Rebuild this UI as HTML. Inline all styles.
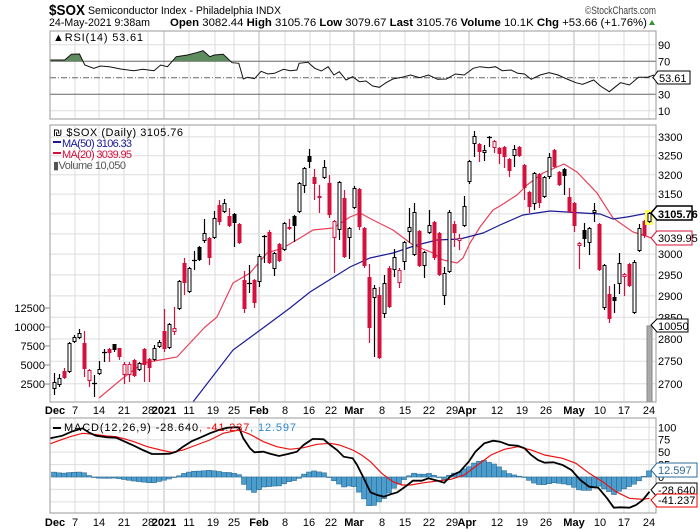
<!DOCTYPE html>
<html><head><meta charset="utf-8"><style>
html,body{margin:0;padding:0;background:#fff;}
svg{display:block;font-family:"Liberation Sans",sans-serif;}
</style></head><body>
<svg id="c" width="700" height="530" viewBox="0 0 700 530" xmlns="http://www.w3.org/2000/svg">
<rect width="700" height="530" fill="#fff"/>
<text x="49" y="15" font-size="15" font-weight="bold" textLength="36" lengthAdjust="spacingAndGlyphs">$SOX</text>
<text x="88" y="14" font-size="11" textLength="193" lengthAdjust="spacingAndGlyphs">Semiconductor Index - Philadelphia INDX</text>
<text x="585" y="14" font-size="11" fill="#444" textLength="71" lengthAdjust="spacingAndGlyphs">©StockCharts.com</text>
<text x="49" y="26" font-size="11" textLength="101" lengthAdjust="spacingAndGlyphs">24-May-2021 9:38am</text>
<text x="170" y="26" font-size="11" textLength="477" lengthAdjust="spacingAndGlyphs"><tspan font-weight="bold">Open</tspan> 3082.44 <tspan font-weight="bold">High</tspan> 3105.76 <tspan font-weight="bold">Low</tspan> 3079.67 <tspan font-weight="bold">Last</tspan> 3105.76 <tspan font-weight="bold">Volume</tspan> 10.1K <tspan font-weight="bold">Chg</tspan> +53.66 (+1.76%)</text>
<polygon points="649,25 655,25 652,20" fill="#2a9a2a"/>
<g id="g"></g>
</svg>
<script>
const NS="http://www.w3.org/2000/svg";const G=document.getElementById('g');
function el(t,a,txt){const e=document.createElementNS(NS,t);for(const k in a)e.setAttribute(k,a[k]);if(txt!==undefined)e.textContent=txt;G.appendChild(e);return e;}
const L=50,R=656;
const vmonth=[164,259,354,469,574];
const vweek=[75,99,124,148,189,215,234,285,310,330,380,405,429,455,499,524,549,599,624,649];
function vgrid(t,b){vweek.forEach(x=>el('line',{x1:x,x2:x,y1:t,y2:b,stroke:'#ddd'}));vmonth.forEach(x=>el('line',{x1:x,x2:x,y1:t,y2:b,stroke:'#bbb'}));}
// ---------- RSI ----------
const rT=31,rB=119;const ry=v=>119-v*0.825;
vgrid(rT,rB);
[90,10].forEach(v=>el('line',{x1:L,x2:R,y1:ry(v),y2:ry(v),stroke:'#ddd'}));
[70,30].forEach(v=>el('line',{x1:L,x2:R,y1:ry(v),y2:ry(v),stroke:'#666'}));
el('line',{x1:L,x2:R,y1:ry(50),y2:ry(50),stroke:'#666','stroke-dasharray':'6,2,1,2'});
const rsiD=[[113,180],[145,180],[160,163],[178,162],[190,195],[210,205],[225,198],[245,200],[270,207],[300,212],[320,208],[345,212],[360,195],[375,200],[395,170],[420,165],[440,158],[455,152],[470,170],[480,165],[500,163],[520,188],[535,190],[545,237],[555,232],[570,236],[585,214],[600,222],[615,220],[635,208],[650,212],[665,210],[670,190],[690,187],[705,205],[720,213],[735,200],[748,225],[760,215],[775,240],[790,230],[805,245],[820,243],[835,258],[850,262],[865,248],[880,237],[900,232],[920,225],[940,233],[960,225],[980,238],[1000,237],[1020,222],[1040,225],[1060,205],[1075,200],[1095,203],[1110,200],[1125,212],[1145,210],[1160,220],[1175,222],[1190,238],[1210,225],[1230,218],[1250,225],[1270,237],[1290,248],[1305,253],[1330,240],[1345,258],[1365,275],[1390,248],[1410,255],[1430,232],[1450,232],[1465,225]];
const rp=rsiD.map(p=>[(p[0]*0.4464).toFixed(1),(p[1]/3).toFixed(1)]);
const cp=el('clipPath',{id:'ob'});const cr=document.createElementNS(NS,'rect');cr.setAttribute('x',L);cr.setAttribute('y',rT);cr.setAttribute('width',R-L);cr.setAttribute('height',ry(70)-rT);cp.appendChild(cr);
el('polygon',{points:rp.map(p=>p.join(',')).join(' ')+' '+rp[rp.length-1][0]+','+ry(70)+' '+rp[0][0]+','+ry(70),fill:'#5e8c5e','clip-path':'url(#ob)'});
el('polyline',{points:rp.map(p=>p.join(',')).join(' '),fill:'none',stroke:'#111','stroke-width':1});
el('rect',{x:L,y:rT,width:R-L,height:rB-rT,fill:'none',stroke:'#999'});
el('text',{x:53,y:41,'font-size':11},'▲RSI(14) 53.61').setAttribute('textLength','90');
[[90,ry(90)],[70,ry(70)],[30,ry(30)],[10,ry(10)]].forEach(a=>el('text',{x:658,y:a[1]+4,'font-size':11},a[0]));
el('polygon',{points:'653,77.5 658,71 690,71 690,84 658,84',fill:'#fff',stroke:'#000'});
el('text',{x:659,y:82,'font-size':11},'53.61');
// ---------- MAIN ----------
const mT=125,mB=402;const py=p=>10102-1230*Math.log(p);
vgrid(mT,mB);
[3300,3250,3200,3150,3100,3050,3000,2950,2900,2850,2800,2750,2700].forEach(p=>{el('line',{x1:L,x2:R,y1:py(p),y2:py(p),stroke:'#ddd'});el('text',{x:658,y:py(p)+4,'font-size':11},p);});
[[12500,308],[10000,327],[7500,346],[5000,365],[2500,384]].forEach(a=>{el('text',{x:45,y:a[1]+4,'font-size':11,'text-anchor':'end'},a[0]);el('line',{x1:45,x2:50,y1:a[1],y2:a[1],stroke:'#888'});});
// volume
el('rect',{x:647,y:326,width:5,height:mB-326,fill:'#aaa',stroke:'#888'});
// MAs
const ma20=[[99,398],[123,378],[143,363],[160,360],[177,357],[190,343],[205,327],[217,317],[233,283],[250,273],[267,253],[283,248],[300,238],[313,230],[333,228],[350,217],[360,213],[373,220],[393,230],[413,245],[433,253],[443,260],[457,263],[463,258],[470,243],[480,227],[493,210],[500,206],[517,195],[527,185],[543,173],[564,164],[577,172],[597,193],[613,218],[633,232],[643,235],[654,239]];
const ma50=[[193,402],[233,350],[263,328],[290,308],[310,292],[350,267],[370,258],[393,253],[417,245],[437,240],[460,239],[483,233],[500,225],[523,215],[550,211],[583,213],[600,214],[613,219],[627,217],[654,212]];
el('polyline',{points:ma20.join(' '),fill:'none',stroke:'#e8405a','stroke-width':1.2});
el('polyline',{points:ma50.join(' '),fill:'none',stroke:'#1a1a99','stroke-width':1.2});
// candles
const C=[
['hb',382,389,373,395],['hb',378,385,374,387],['fr',371,378,368,379],['hb',343,372,342,373],['hb',337,342,335,343],['hb',333,338,329,339],['fr',343,369,331,377],['hr',370,381,369,387],['dj',383,383,375,397],['hb',369,374,361,375],
['dj',352,352,349,362],['fr',349,353,348,362],['fb',344,350,344,352],['fr',348,357,348,360],['hr',364,375,362,384],['hr',364,375,362,382],['fr',360,376,359,377],['hb',363,370,362,371],['fr',349,365,348,382],['fr',359,368,358,382],
['hb',348,360,345,361],['hb',342,347,340,348],['fr',331,349,309,352],['hb',324,348,323,349],['hr',328,332,307,335],['hb',281,309,280,310],['fr',263,283,258,295],['hb',268,292,267,293],['dj',260,260,251,270],['fb',247,260,246,261],
['hb',233,241,219,243],['fr',238,258,237,265],['hb',218,238,211,239],['fr',205,222,200,225],['hb',203,212,199,213],['fr',216,226,208,227],['fb',214,223,213,247],['fr',224,243,223,244],['fr',280,309,271,313],['dj',283,283,265,293],
['fr',280,303,279,308],['hb',256,282,254,287],['dj',236,236,235,263],['fr',232,263,230,264],['hb',253,269,252,276],['fr',244,261,243,262],['hb',223,250,222,251],['fr',227,229,219,230],['fb',216,226,215,242],['hb',183,212,182,213],
['hb',168,186,167,193],['fb',156,162,149,168],['fr',177,184,169,200],['hr',196,198,185,213],['hb',167,178,160,179],['fr',183,215,175,218],['hr',221,238,220,273],['hb',182,230,181,240],['fr',198,257,190,258],['hb',228,238,227,259],
['hb',188,208,186,209],['fr',189,227,188,230],['fr',228,266,227,268],['fr',277,328,264,343],['hb',288,298,285,357],['fr',295,358,287,359],['hb',283,314,275,318],['fr',268,307,266,308],['hb',257,270,249,277],['hr',270,283,268,288],
['hb',242,262,241,270],['hb',227,232,208,243],['hb',212,255,203,256],['fr',231,266,230,267],['hb',252,266,251,278],['hb',225,233,210,234],['fr',222,258,221,260],['fr',233,275,232,276],['hb',273,296,267,305],['hb',212,272,210,273],
['fr',224,233,221,247],['hr',238,241,234,250],['hb',206,226,196,227],['hb',161,182,160,184],['hb',136,144,131,157],['fr',144,152,143,162],['hb',150,153,145,161],['dj',137,137,136,147],['hr',141,148,140,153],['fr',148,154,147,164],
['fr',147,157,146,168],['fr',159,171,158,177],['hb',149,156,145,167],['fr',147,156,146,157],['fr',165,188,164,200],['fr',192,207,191,213],['hb',173,204,172,210],['fr',174,203,173,208],['hb',177,197,176,198],['hb',157,177,153,179],
['fr',150,167,149,168],['fr',172,185,171,186],['fb',169,176,168,195],['fr',197,212,188,213],['fr',203,226,202,232],['hr',243,246,242,269],['fb',230,239,223,247],['hb',228,243,227,255],['hb',210,213,203,222],['fr',224,270,223,271],
['hb',265,308,264,310],['fr',294,319,286,323],['fb',297,301,284,313],['hb',263,284,253,294],['hr',274,277,273,296],['fr',264,286,263,287],['hb',262,313,260,314],['hb',228,251,224,252],['fr',221,236,220,238],['yl',213,222,212,223]];
const RED='#d4103c';
C.forEach((c,i)=>{const x=54+i*5;const [t,bt,bb,wt,wb]=c;
 const col=(t[1]==='r')?RED:'#000';
 if(t==='yl'){el('rect',{x:x-4,y:bt-3,width:8,height:bb-bt+6,fill:'#ffff55'});}
 el('line',{x1:x+0.5,x2:x+0.5,y1:wt,y2:wb,stroke:col,'stroke-width':1.2});
 if(t==='dj'){el('line',{x1:x-2,x2:x+3,y1:bt+0.5,y2:bt+0.5,stroke:'#000','stroke-width':1.2});return;}
 if(t[0]==='f'){el('rect',{x:x-1.5,y:bt,width:4,height:Math.max(1,bb-bt),fill:col});}
 else{el('rect',{x:x-1,y:bt+0.5,width:3,height:Math.max(1,bb-bt-1),fill:'#fff',stroke:col,'stroke-width':1});}
});
el('rect',{x:L,y:mT,width:R-L,height:mB-mT,fill:'none',stroke:'#999'});
el('text',{x:53,y:136,'font-size':11,textLength:130},'₪ $SOX (Daily) 3105.76');
el('rect',{x:53,y:141,width:8,height:2,fill:'#1a1a99'});
el('text',{x:62,y:147,'font-size':11,fill:'#1a1a99',textLength:70},'MA(50) 3106.33');
el('rect',{x:53,y:152,width:8,height:2,fill:RED});
el('text',{x:62,y:158,'font-size':11,fill:RED,textLength:70},'MA(20) 3039.95');
el('text',{x:53,y:169,'font-size':11,fill:'#555',textLength:73},'▮Volume 10,050');
el('polygon',{points:'651,213 657,206 692,206 692,220 657,220',fill:'#fff',stroke:'#000','stroke-width':1.5});
el('text',{x:658,y:218,'font-size':11,'font-weight':'bold'},'3105.76');
el('polygon',{points:'651,238 657,231 692,231 692,245 657,245',fill:'#fff',stroke:RED});
el('text',{x:658,y:242,'font-size':11},'3039.95');
el('polygon',{points:'651,325 657,319 688,319 688,332 657,332',fill:'#fff',stroke:'#000'});
el('text',{x:658,y:330,'font-size':11},'10050');
// x labels
const xl=[['Dec',55,1],['7',75],['14',99],['21',124],['28',148],['2021',164,1],['11',189],['19',213],['25',234],['Feb',259,1],['8',285],['16',309],['22',331],['Mar',354,1],['8',382],['15',405],['22',429],['29',452],['Apr',467,1],['12',497],['19',522],['26',546],['May',574,1],['10',600],['17',624],['24',649]];
function xlab(y){xl.forEach(a=>el('text',{x:a[1],y:y,'font-size':11,'font-weight':a[2]?'bold':'normal','text-anchor':'middle'},a[0]));}
xlab(414);
// ---------- MACD ----------
const qT=418,qB=513;const my=v=>477-v*0.497;
vgrid(qT,qB);
[100,75,50,25,0,-25,-50].forEach(v=>el('line',{x1:L,x2:R,y1:my(v),y2:my(v),stroke:'#ddd'}));
const macdD=[[113,130],[140,122],[160,110],[185,100],[200,113],[215,122],[240,127],[260,128],[280,140],[300,152],[320,165],[340,177],[360,177],[380,176],[395,170],[410,155],[430,138],[450,127],[470,115],[490,105],[510,98],[525,97],[535,97],[545,130],[560,160],[570,172],[590,170],[605,176],[625,183],[645,177],[665,170],[680,150],[700,132],[710,132],[725,133],[740,150],[755,165],[770,185],[790,190],[800,210],[815,250],[830,292],[845,300],[860,305],[875,298],[890,292],[910,273],[925,257],[945,257],[960,250],[980,257],[995,263],[1010,243],[1030,230],[1050,200],[1065,170],[1085,145],[1105,137],[1120,140],[1140,150],[1160,152],[1175,160],[1190,180],[1205,195],[1220,203],[1240,202],[1260,210],[1280,225],[1300,255],[1320,275],[1340,278],[1360,310],[1375,338],[1390,337],[1410,338],[1425,330],[1440,315],[1455,290]];
const sigD=[[113,146],[140,133],[160,124],[185,115],[210,118],[240,123],[260,125],[280,132],[300,140],[330,155],[360,165],[385,172],[410,165],[440,150],[470,135],[500,115],[535,105],[560,118],[590,140],[620,155],[650,163],[680,158],[710,148],[740,145],[760,150],[790,165],[810,180],[830,200],[855,235],[880,260],[900,270],[920,270],[950,263],[980,258],[1010,253],[1040,240],[1070,210],[1100,180],[1130,163],[1160,155],[1190,165],[1220,180],[1260,190],[1290,205],[1320,235],[1350,260],[1380,290],[1410,310],[1440,313],[1455,310]];
const tr=d=>d.map(p=>[p[0]*0.4464,395+p[1]/3]);
const mP=tr(macdD),sP=tr(sigD);
function interp(P,x){if(x<=P[0][0])return P[0][1];for(let i=1;i<P.length;i++){if(x<=P[i][0]){const f=(x-P[i-1][0])/(P[i][0]-P[i-1][0]);return P[i-1][1]+f*(P[i][1]-P[i-1][1]);}}return P[P.length-1][1];}
const z=my(0);
for(let i=0;i<120;i++){const x=54+i*5;let h=(interp(sP,x)-interp(mP,x))*1.0;const y1=Math.min(z,z-h),hh=Math.abs(h);el('rect',{x:x-2.5,y:y1,width:5,height:Math.max(0.5,hh),fill:'#4d9dcc',stroke:'#2b6c98','stroke-width':0.6});}
el('polyline',{points:sP.map(p=>p[0].toFixed(1)+','+p[1].toFixed(1)).join(' '),fill:'none',stroke:'#ee1111','stroke-width':1.2});
el('polyline',{points:mP.map(p=>p[0].toFixed(1)+','+p[1].toFixed(1)).join(' '),fill:'none',stroke:'#000','stroke-width':1.8});
el('rect',{x:L,y:qT,width:R-L,height:qB-qT,fill:'none',stroke:'#999'});
[100,75,50,25,0,-25,-50].forEach(v=>el('text',{x:658,y:my(v)+4,'font-size':11},v));
el('polygon',{points:'651,470 657,463 697,463 697,477 657,477',fill:'#fff',stroke:'#2b6c98'});
el('text',{x:658,y:474,'font-size':11,fill:'#2b6c98'},'12.597');
el('polygon',{points:'651,490 657,483 697,483 697,497 657,497',fill:'#fff',stroke:'#000'});
el('text',{x:658,y:494,'font-size':11},'-28.640');
el('polygon',{points:'651,500 657,494 697,494 697,507 657,507',fill:'#fff',stroke:'#e00'});
el('text',{x:658,y:504,'font-size':11},'-41.237');
el('rect',{x:53,y:427,width:8,height:2,fill:'#000'});
const t=el('text',{x:64,y:431,'font-size':11,textLength:232});
t.innerHTML='MACD(12,26,9) -28.640<tspan fill="#e00">, -41.237</tspan><tspan fill="#2b8ad0">, 12.597</tspan>';
xlab(526);
</script>
</body></html>
